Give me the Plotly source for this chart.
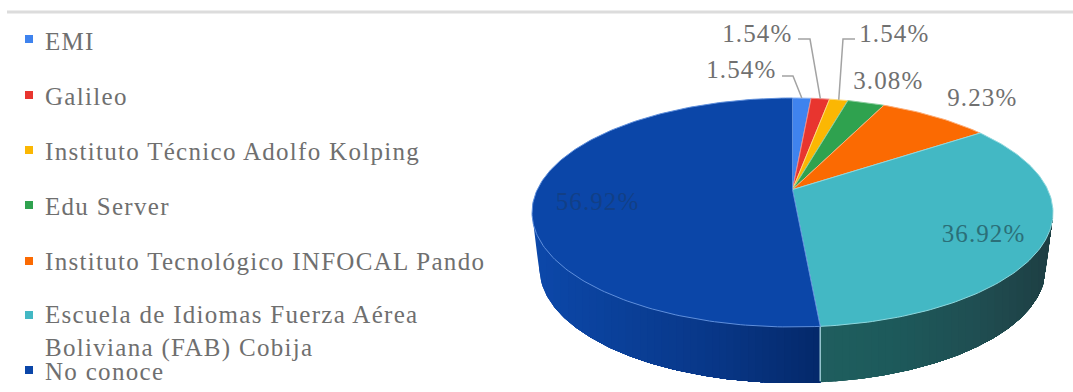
import numpy as np
import plotly.graph_objects as go

# Survey categories and their values, in clockwise order from the top of the pie
categories = ["EMI", "Galileo", "Instituto Técnico Adolfo Kolping", "Edu Server",
              "Instituto Tecnológico INFOCAL Pando",
              "Escuela de Idiomas Fuerza Aérea<br>Boliviana (FAB) Cobija", "No conoce"]
values = [1.54, 1.54, 1.54, 3.08, 9.23, 36.92, 56.92]
colors = ["#3f83ee", "#e8352f", "#fbb703", "#2fa24f", "#fb6a02", "#43b8c4", "#0b46a8"]
edge_colors = ["#8db6f5", "#f08a86", "#fdd97a", "#8bcd9e", "#fdae78", "#8ed8de", "#5f8fdc"]

# Placement of the legend rows and the value labels, in page pixels
legend_marker_y = [39, 95, 150, 205, 261, 315, 370]
legend_text_y = [41, 96, 151, 206, 261, 331, 371]
label_xy = [(741, 69), (757, 33), (894, 33), (888, 80), (982, 97), (983, 233), (597, 201)]
label_colors = ["#707070"] * 5 + ["#2b6f78", "#123f86"]
leader_elbows = [[(782, 76), (793, 76)], [(798, 39), (810, 39)], [(855, 39), (843, 39)]]

# Pie geometry: a tilted disc seen in perspective, so its centre sits above the ellipse centre
CX, CY, RX, RY = 792.5, 212.5, 260.5, 114.5
TILT = 0.2
DEPTH, SHRINK = 56.0, 7.5
SCALE = np.sqrt(1 - TILT ** 2)


def project(theta):
    """Map an angle, clockwise from the top, to the page position on the pie's rim."""
    u, v = np.sin(theta), np.cos(theta)
    w = 1 + TILT * v
    return CX + RX * u * SCALE / w, CY - RY * (v + TILT) / w


def project_center():
    return CX, CY - RY * TILT


def lerp_hex(stops, x):
    xs = [s[0] for s in stops]
    rgb = [np.interp(x, xs, [int(s[1][i:i + 2], 16) for s in stops]) for i in (1, 3, 5)]
    return "rgb(%d,%d,%d)" % tuple(int(round(c)) for c in rgb)


shares = np.array(values) / sum(values) * 2 * np.pi
ends = np.cumsum(shares)
starts = ends - shares

fig = go.Figure()

# Side wall: overlapping bands, each reaching the section's far end and painted over by the next
depths = np.linspace(0, 1, 60)


def wall_edges(x):
    dx = (x - CX) / (RX - SHRINK * depths)
    inside = np.abs(dx) < 1
    low = CY + DEPTH * depths + RY * np.sqrt(np.clip(1 - dx ** 2, 0, None))
    low = np.where(inside, low, -np.inf)
    t = (x - CX) / RX
    top = CY + RY * np.sqrt(max(1 - t ** 2, 0))
    return top, max(low.max(), top)


split_x = float(project(ends[5])[0])
blue_stops = [(532, "#0c48aa"), (620, "#0a4099"), (720, "#083686"), (split_x, "#04286a")]
teal_stops = [(split_x, "#1f5e5e"), (890, "#1d5a5b"), (975, "#1f4e52"), (1053, "#1e3e43")]

for lo, hi, stops, n in ((CX - RX, split_x, blue_stops, 40), (split_x, CX + RX, teal_stops, 32)):
    grid = np.linspace(lo, hi, n + 1)
    outline = np.linspace(lo, hi, 220)
    pairs = np.array([wall_edges(x) for x in outline])
    for a, b in zip(grid[:-1], grid[1:]):
        keep = outline >= a
        xs = outline[keep]
        poly_x = [a, *xs, *xs[::-1], a]
        poly_y = [wall_edges(a)[0] - 2, *(pairs[keep, 0] - 2), *pairs[keep, 1][::-1], wall_edges(a)[1]]
        c = lerp_hex(stops, (a + b) / 2)
        fig.add_trace(go.Scatter(x=poly_x, y=poly_y, mode="lines", fill="toself", fillcolor=c,
                                 line=dict(width=0), hoverinfo="skip"))

# Pale seam where the two visible wall sections meet
seam_top, seam_bottom = wall_edges(split_x)
fig.add_trace(go.Scatter(x=[split_x, split_x], y=[seam_top, seam_bottom - 1], mode="lines",
                         line=dict(color="#9fcdd6", width=1.4), hoverinfo="skip"))

# Top face of the pie, one wedge per category
ax0, ay0 = project_center()
for name, s, e, c, ec in zip(categories, starts, ends, colors, edge_colors):
    th = np.linspace(s, e, max(int((e - s) * 60), 6))
    px, py = project(th)
    fig.add_trace(go.Scatter(x=[ax0, *px, ax0], y=[ay0, *py, ay0], mode="lines", fill="toself",
                             fillcolor=c, line=dict(color=ec, width=1),
                             name=name.replace("<br>", " "), hoverinfo="name"))

# Leader lines from the three smallest slices out to their labels
for i, elbow in enumerate(leader_elbows):
    rim_x, rim_y = project((starts[i] + ends[i]) / 2)
    fig.add_trace(go.Scatter(x=[p[0] for p in elbow] + [float(rim_x)],
                             y=[p[1] for p in elbow] + [float(rim_y)],
                             mode="lines", line=dict(color="#a3a3a3", width=1.5), hoverinfo="skip"))

# Legend swatches
fig.add_trace(go.Scatter(x=[29] * len(categories), y=legend_marker_y, mode="markers",
                         marker=dict(symbol="square", size=8, color=colors, line=dict(width=0)),
                         hoverinfo="skip"))

annotations = []
for name, y in zip(categories, legend_text_y):
    annotations.append(dict(x=43, y=y, text=name, xanchor="left", yanchor="middle", align="left",
                            showarrow=False, font=dict(family="Liberation Serif", size=25, color="#6f6f6f")))
for v, (x, y), c in zip(values, label_xy, label_colors):
    annotations.append(dict(x=x, y=y, text=f"{v:.2f}%", xanchor="center", yanchor="middle",
                            showarrow=False, font=dict(family="Liberation Serif", size=25, color=c)))

fig.update_layout(
    width=1073, height=392, margin=dict(l=0, r=0, t=0, b=0), showlegend=False,
    paper_bgcolor="white", plot_bgcolor="white", annotations=annotations,
    xaxis=dict(range=[0, 1073], visible=False, fixedrange=True),
    yaxis=dict(range=[392, 0], visible=False, fixedrange=True),
    shapes=[dict(type="line", x0=7, x1=1073, y0=12, y1=12, line=dict(color="#dcdcdc", width=3))],
)

# The typeface runs slightly wide here, so open up the tracking of all annotation text
tracking = """
document.querySelectorAll('.annotation-text').forEach(function (t) {
  t.style.letterSpacing = t.textContent.indexOf('%') >= 0 ? '1.1px' : '1.3px';
});
"""
fig.write_html("out.html", config=dict(displayModeBar=False), post_script=tracking)
